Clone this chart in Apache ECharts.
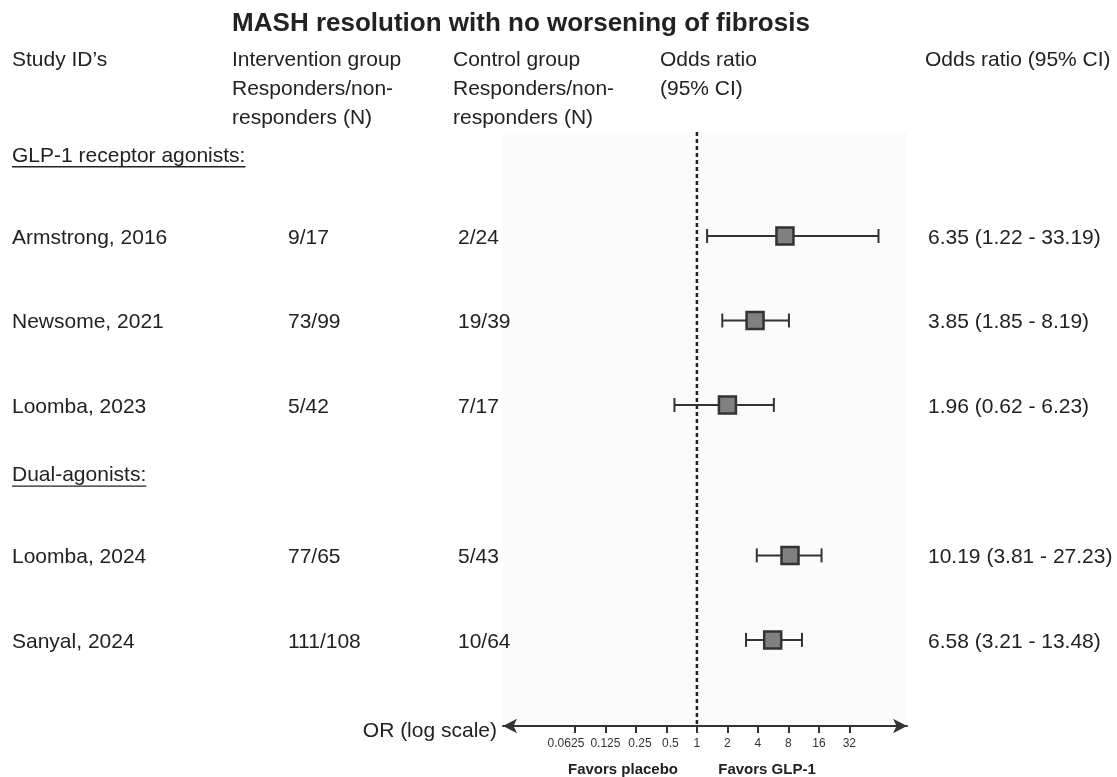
<!DOCTYPE html>
<html>
<head>
<meta charset="utf-8">
<script src="https://cdn.jsdelivr.net/npm/echarts@6/dist/echarts.min.js"></script>
<style>
html,body{margin:0;padding:0;background:#fff;}
#chart{width:1117px;height:777px;}
</style>
</head>
<body>
<div id="chart"></div>
<script>
// ---------------- data ----------------
const title = 'MASH resolution with no worsening of fibrosis';
const headers = ['Study ID\u2019s', 'Intervention group\nResponders/non-\nresponders (N)', 'Control group\nResponders/non-\nresponders (N)', 'Odds ratio\n(95% CI)', 'Odds ratio (95% CI)'];
const groups = ['GLP-1 receptor agonists:', 'Dual-agonists:'];
const studies = ['Armstrong, 2016', 'Newsome, 2021', 'Loomba, 2023', 'Loomba, 2024', 'Sanyal, 2024'];
const studyGroup = [0, 0, 0, 1, 1];
const intervention = ['9/17', '73/99', '5/42', '77/65', '111/108'];
const control = ['2/24', '19/39', '7/17', '5/43', '10/64'];
const orText = ['6.35 (1.22 - 33.19)', '3.85 (1.85 - 8.19)', '1.96 (0.62 - 6.23)', '10.19 (3.81 - 27.23)', '6.58 (3.21 - 13.48)'];
// plotted positions as drawn in the figure
const orPoint = [7.4, 3.75, 2.0, 8.3, 5.6];
const ciLow = [1.26, 1.78, 0.6, 3.9, 3.05];
const ciHigh = [62, 8.1, 5.75, 17, 10.9];
const tickValues = [0.0625, 0.125, 0.25, 0.5, 1, 2, 4, 8, 16, 32];
const axisName = 'OR (log scale)';
const favorLeft = 'Favors placebo';
const favorRight = 'Favors GLP-1';

// ---------------- layout ----------------
const GROUP_GAP = 0.78;
const HEADER_OFFSET = 0.95;
const GRID_TOP = 132, GRID_BOTTOM_Y = 726, ROW0_PX = 236, ROW_PX = 84.5;
const Y_MIN = (GRID_TOP - ROW0_PX) / ROW_PX, Y_MAX = (GRID_BOTTOM_Y - ROW0_PX) / ROW_PX;
const FONT = '"Liberation Sans", Arial, Helvetica, sans-serif';
const FS = 21;
const rowY = studies.map((s, i) => i + studyGroup[i] * GROUP_GAP);
const groupY = groups.map((g, gi) => rowY[studyGroup.indexOf(gi)] - HEADER_OFFSET);

const chart = echarts.init(document.getElementById('chart'), null, {renderer: 'canvas'});

const boxData = studies.map((s, i) => [ciLow[i], orPoint[i], ciHigh[i], rowY[i]]);
const fmt = v => String(+(+v).toPrecision(6));

chart.setOption({
  animation: false,
  backgroundColor: '#ffffff',
  grid: {left: 503, right: 210, top: GRID_TOP, height: GRID_BOTTOM_Y - GRID_TOP, show: true, backgroundColor: '#fbfbfb', borderWidth: 0},
  xAxis: {
    type: 'log', logBase: 2,
    min: Math.pow(2, -6.36), max: Math.pow(2, 6.89),
    position: 'bottom',
    splitLine: {show: false},
    axisLine: {show: true, onZero: false, lineStyle: {color: '#333', width: 2}, symbol: ['arrow', 'arrow'], symbolSize: [11, 14]},
    axisTick: {show: true, customValues: tickValues, length: 7, lineStyle: {color: '#333', width: 2}},
    axisLabel: {show: true, customValues: tickValues, color: '#333', fontSize: 12, fontFamily: FONT, margin: 12,
      hideOverlap: false, showMinLabel: true, showMaxLabel: true,
      formatter: v => {
        const s = fmt(v);
        if (+v === 0.0625) return '{l|' + s + '}';
        if (+v === 0.25 || +v === 0.5) return '{r|' + s + '}';
        return s;
      },
      rich: {
        l: {fontSize: 12, fontFamily: FONT, color: '#333', padding: [0, 18, 0, 0]},
        r: {fontSize: 12, fontFamily: FONT, color: '#333', padding: [0, 0, 0, 8]}
      }
    },
    minorTick: {show: false}
  },
  yAxis: {type: 'value', inverse: true, min: Y_MIN, max: Y_MAX, show: false},
  series: [
    {
      type: 'line', data: [[1, Y_MIN], [1, Y_MAX]], symbol: 'none', silent: true, z: 1,
      lineStyle: {color: '#222', width: 2.5, type: [4, 3]}
    },
    {
      type: 'custom', z: 3,
      encode: {x: [0, 1, 2], y: 3},
      data: boxData,
      renderItem: function (params, api) {
        const y = api.value(3);
        const pLo = api.coord([api.value(0), y]);
        const pMid = api.coord([api.value(1), y]);
        const pHi = api.coord([api.value(2), y]);
        const cap = 7, half = 8.5;
        const st = {stroke: '#333', lineWidth: 2};
        return {
          type: 'group',
          children: [
            {type: 'line', shape: {x1: pLo[0], y1: pLo[1], x2: pHi[0], y2: pHi[1]}, style: st},
            {type: 'line', shape: {x1: pLo[0], y1: pLo[1] - cap, x2: pLo[0], y2: pLo[1] + cap}, style: st},
            {type: 'line', shape: {x1: pHi[0], y1: pHi[1] - cap, x2: pHi[0], y2: pHi[1] + cap}, style: st},
            {type: 'rect', shape: {x: pMid[0] - half, y: pMid[1] - half, width: half * 2, height: half * 2},
              style: {fill: '#808080', stroke: '#333', lineWidth: 2.5}}
          ]
        };
      }
    }
  ]
});

// ---------------- text columns ----------------
const measure = (t, font) => {
  const c = document.createElement('canvas').getContext('2d');
  c.font = font; return c.measureText(t).width;
};
const gfx = [];
const txt = (text, x, y, opt) => {
  opt = opt || {};
  const font = (opt.weight || 'normal') + ' ' + (opt.size || FS) + 'px ' + FONT;
  gfx.push({type: 'text', x: x, y: y, silent: true,
    style: {text: text, font: font, fill: opt.color || '#222',
      textAlign: opt.align || 'left', align: opt.align || 'left',
      textVerticalAlign: opt.valign || 'middle', verticalAlign: opt.valign || 'middle',
      lineHeight: opt.lineHeight || 29}});
  if (opt.underline) {
    const w = measure(text, font);
    gfx.push({type: 'line', silent: true, shape: {x1: x, y1: y + 11, x2: x + w, y2: y + 11}, style: {stroke: '#222', lineWidth: 1.3}});
  }
};
const colX = [12, 232, 453, 660, 925];
const valX = [12, 288, 458, 928];

txt(title, 521, 24, {weight: 'bold', size: 26, align: 'center'});
headers.forEach((h, i) => txt(h, colX[i], 46, {valign: 'top'}));

const py = v => chart.convertToPixel({gridIndex: 0}, [1, v])[1];
groups.forEach((g, gi) => txt(g, 12, py(groupY[gi]), {underline: true}));
studies.forEach((s, i) => {
  const y = py(rowY[i]) + 2;
  txt(s, valX[0], y);
  txt(intervention[i], valX[1], y);
  txt(control[i], valX[2], y);
  txt(orText[i], valX[3], y);
});
const axisY = py(Y_MAX);
txt(axisName, 497, axisY + 5, {align: 'right'});
txt(favorLeft, 623, 770, {weight: 'bold', size: 15, align: 'center'});
txt(favorRight, 767, 770, {weight: 'bold', size: 15, align: 'center'});

chart.setOption({graphic: {elements: gfx}});
</script>
</body>
</html>
